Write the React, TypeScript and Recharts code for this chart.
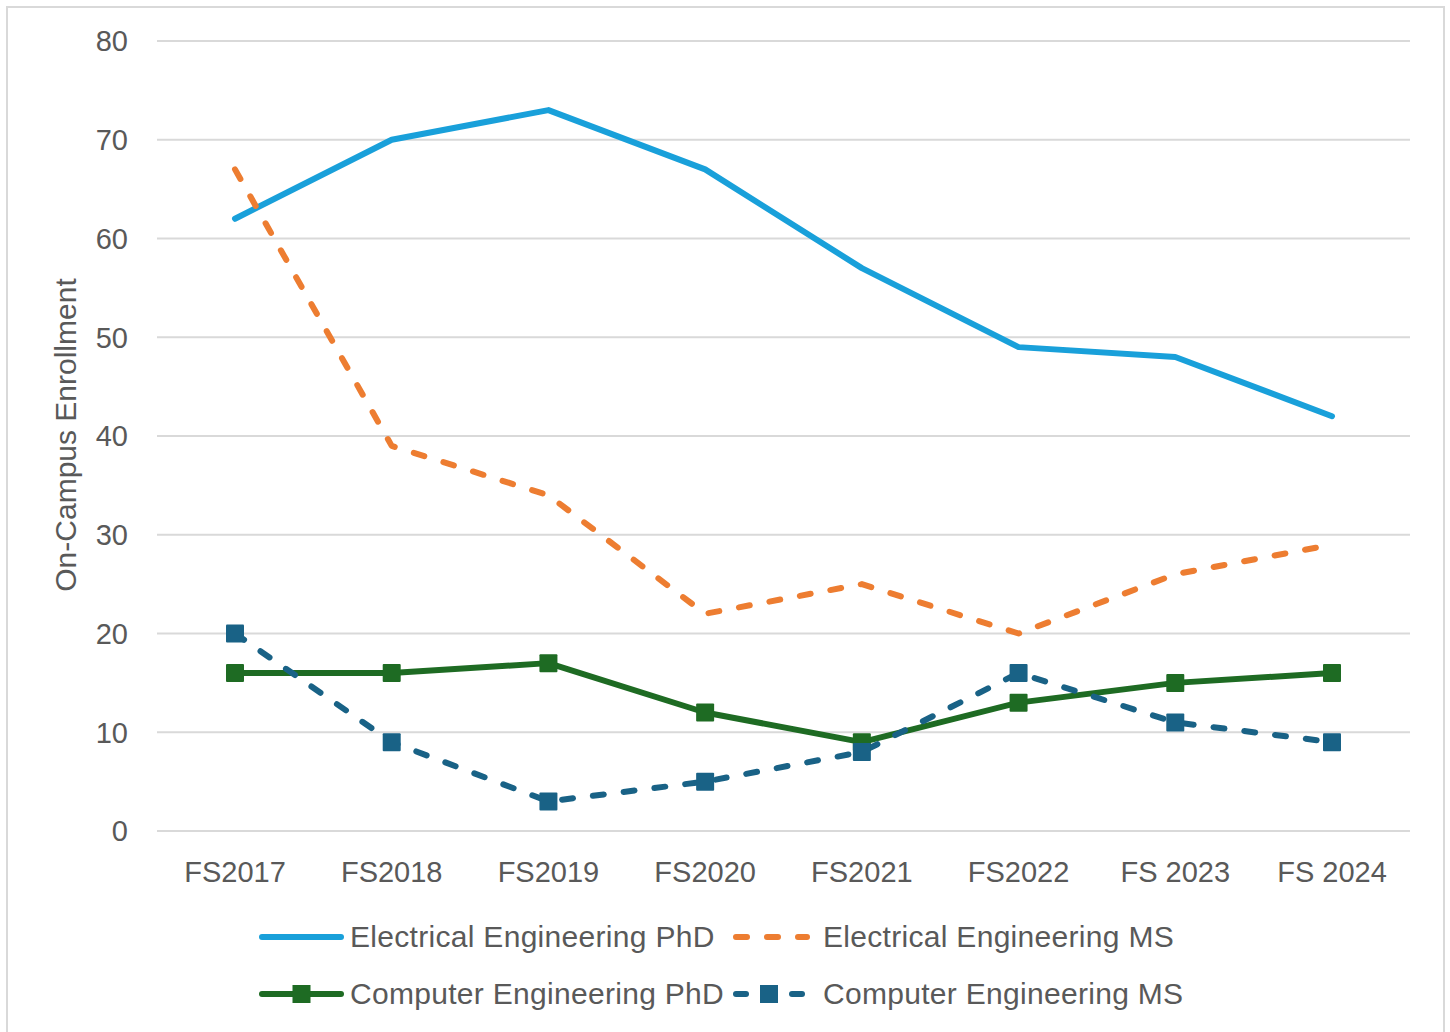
import React from 'react';
import { LineChart, Line, XAxis, YAxis, CartesianGrid } from 'recharts';

const terms = ['FS2017', 'FS2018', 'FS2019', 'FS2020', 'FS2021', 'FS2022', 'FS 2023', 'FS 2024'];
const eePhd = [62, 70, 73, 67, 57, 49, 48, 42];
const eeMs = [67, 39, 34, 22, 25, 20, 26, 29];
const cePhd = [16, 16, 17, 12, 9, 13, 15, 16];
const ceMs = [20, 9, 3, 5, 8, 16, 11, 9];
const yTicks = [0, 10, 20, 30, 40, 50, 60, 70, 80];

const series = [
  { key: 'eePhd', name: 'Electrical Engineering PhD', color: '#19A0DA', dash: undefined, marker: false },
  { key: 'eeMs', name: 'Electrical Engineering MS', color: '#ED7D31', dash: '11 20', marker: false },
  { key: 'cePhd', name: 'Computer Engineering PhD', color: '#1E6B23', dash: undefined, marker: true },
  { key: 'ceMs', name: 'Computer Engineering MS', color: '#196286', dash: '11 20', marker: true },
];

const data = terms.map((t, i) => ({
  term: t,
  eePhd: eePhd[i],
  eeMs: eeMs[i],
  cePhd: cePhd[i],
  ceMs: ceMs[i],
}));

const FONT = '"Liberation Sans", Arial, sans-serif';
const TEXT = '#595959';
const LW = 6;

const SquareDot = (color: string) => (props: any) => {
  const { cx, cy, index } = props;
  if (cx == null || cy == null) return <g key={index} />;
  return <rect key={index} x={cx - 9} y={cy - 9} width={18} height={18} fill={color} rx={1} />;
};

function LegendItem({ s, x, y }: { s: any; x: number; y: number }) {
  return (
    <div style={{ position: 'absolute', left: x, top: y - 20, height: 40, display: 'flex', alignItems: 'center' }}>
      <svg width={90} height={40} style={{ display: 'block' }}>
        {s.dash ? (
          s.marker ? (
            <>
              <line x1={5} y1={20} x2={15} y2={20} stroke={s.color} strokeWidth={LW} strokeLinecap="round" />
              <line x1={61} y1={20} x2={71} y2={20} stroke={s.color} strokeWidth={LW} strokeLinecap="round" />
              <rect x={29} y={11} width={18} height={18} fill={s.color} />
            </>
          ) : (
            <line x1={5} y1={20} x2={76} y2={20} stroke={s.color} strokeWidth={LW} strokeLinecap="round" strokeDasharray="11 20" />
          )
        ) : (
          <>
            <line x1={4} y1={20} x2={83} y2={20} stroke={s.color} strokeWidth={LW} strokeLinecap="round" />
            {s.marker && <rect x={34.5} y={11} width={18} height={18} fill={s.color} />}
          </>
        )}
      </svg>
      <span style={{ fontFamily: FONT, fontSize: 30, letterSpacing: 0.3, color: TEXT, whiteSpace: 'nowrap', marginLeft: 2 }}>
        {s.name}
      </span>
    </div>
  );
}

const YLabel = () => (
  <text
    x={65}
    y={435}
    transform="rotate(-90, 65, 435)"
    textAnchor="middle"
    dominantBaseline="central"
    fill={TEXT}
    fontSize={30}
    fontFamily={FONT}
  >
    On-Campus Enrollment
  </text>
);

export default function App() {
  return (
    <div style={{ position: 'absolute', left: 0, top: 0, width: 1450, height: 1032, overflow: 'hidden', background: '#fff' }}>
      <div
        style={{
          position: 'absolute',
          left: 6,
          top: 6,
          width: 1439,
          height: 1060,
          border: '2px solid #d9d9d9',
          boxSizing: 'border-box',
        }}
      />
      <div style={{ position: 'absolute', left: 0, top: 0 }}>
        <LineChart width={1450} height={1032} data={data} margin={{ top: 41, right: 40, left: 97, bottom: 141 }}>
          <CartesianGrid vertical={false} stroke="#d9d9d9" strokeWidth={2} />
          <XAxis
            dataKey="term"
            height={60}
            padding={{ left: 78, right: 78 }}
            axisLine={false}
            tickLine={false}
            tickSize={0}
            tickMargin={30}
            tick={{ fill: TEXT, fontSize: 29, fontFamily: FONT }}
            interval={0}
          />
          <YAxis
            width={60}
            domain={[0, 80]}
            ticks={yTicks}
            axisLine={false}
            tickLine={false}
            tickSize={0}
            tickMargin={29}
            tick={{ fill: TEXT, fontSize: 29, fontFamily: FONT }}
            label={<YLabel />}
          />
          {series.map((s) => (
            <Line
              key={s.key}
              type="linear"
              dataKey={s.key}
              name={s.name}
              stroke={s.color}
              strokeWidth={LW}
              strokeDasharray={s.dash}
              strokeLinecap="round"
              strokeLinejoin="round"
              dot={s.marker ? SquareDot(s.color) : false}
              activeDot={false}
              isAnimationActive={false}
            />
          ))}
        </LineChart>
      </div>
      <LegendItem s={series[0]} x={258} y={937} />
      <LegendItem s={series[1]} x={731} y={937} />
      <LegendItem s={series[2]} x={258} y={994} />
      <LegendItem s={series[3]} x={731} y={994} />
    </div>
  );
}
